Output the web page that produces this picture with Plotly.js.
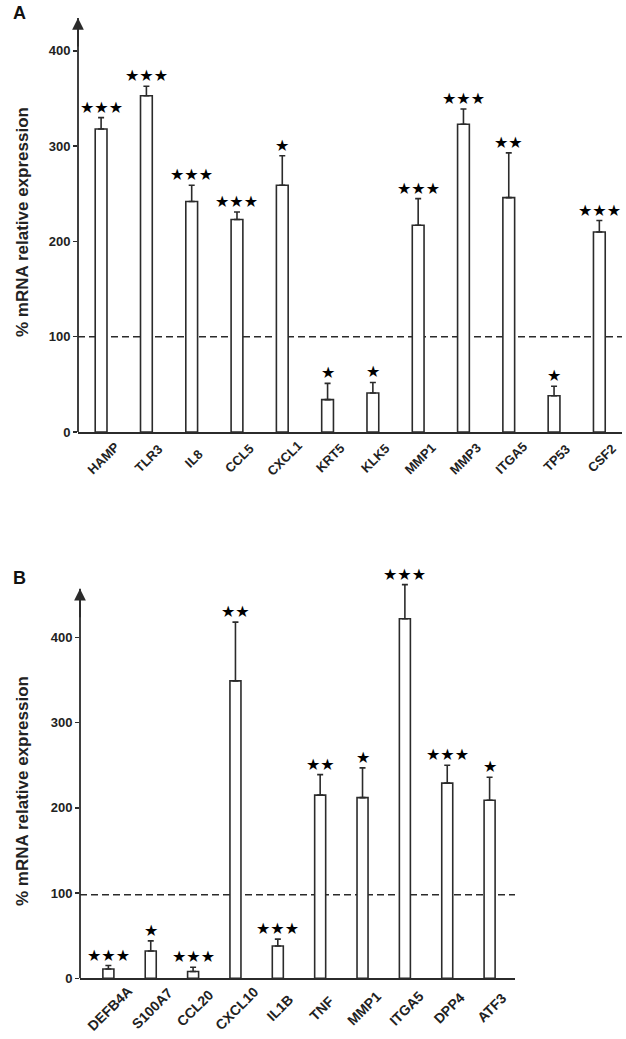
<!DOCTYPE html>
<html>
<head>
<meta charset="utf-8">
<script src="https://cdn.plot.ly/plotly-3.0.1.min.js"></script>
<style>html,body{margin:0;padding:0;background:#fff}#chart{width:626px;height:1039px}</style>
</head>
<body>
<div id="chart"></div>
<script>
// Panel A
const genesA = ["HAMP","TLR3","IL8","CCL5","CXCL1","KRT5","KLK5","MMP1","MMP3","ITGA5","TP53","CSF2"];
const valuesA = [318, 353, 242, 223, 259, 34, 41, 217, 323, 246, 38, 210];
const errorsA = [12, 10, 17, 8, 31, 17, 11, 28, 16, 47, 10, 12];
const starsA = [3, 3, 3, 3, 1, 1, 1, 3, 3, 2, 1, 3];
// Panel B
const genesB = ["DEFB4A","S100A7","CCL20","CXCL10","IL1B","TNF","MMP1","ITGA5","DPP4","ATF3"];
const valuesB = [11, 32, 8, 349, 38, 215, 212, 422, 229, 209];
const errorsB = [4, 12, 5, 69, 8, 24, 35, 40, 21, 27];
const starsB = [3, 1, 3, 2, 3, 2, 1, 3, 3, 1];
const yTicks = [0, 100, 200, 300, 400];
const refA = 100, refB = 98;
const axisTopA = 434.6, axisTopB = 457;
const yTitle = "% mRNA relative expression";

const ink = "#2b2b2b";
const sans = "Liberation Sans, Arial, sans-serif";
const yLbl = {family: sans, size: 13, color: "#222", weight: 700};

function barTrace(x, y, err, xa, ya) {
  return {
    type: "bar", x: x, y: y, xaxis: xa, yaxis: ya, width: 0.26, cliponaxis: false,
    marker: {color: "#ffffff", line: {color: ink, width: 1.6}},
    error_y: {type: "data", array: err, arrayminus: err.map(() => 0), symmetric: false,
              color: ink, thickness: 1.6, width: 3},
    hoverinfo: "x+y", showlegend: false
  };
}

const data = [
  barTrace(genesA, valuesA, errorsA, "x", "y"),
  barTrace(genesB, valuesB, errorsB, "x2", "y2")
];

function starAnn(genes, vals, errs, stars, xr, yr) {
  return genes.map((g, i) => ({
    x: g, y: vals[i] + errs[i], xref: xr, yref: yr, yanchor: "bottom", yshift: -1,
    text: "★".repeat(stars[i]), showarrow: false,
    font: {family: "DejaVu Sans, sans-serif", size: 16, color: "#000"}
  }));
}

// category labels, rotated 45 degrees, centred under each bar
function labelAnn(genes, xr, yr, size, dy) {
  return genes.map(g => ({
    x: g, y: 0, xref: xr, yref: yr, xanchor: "center", yanchor: "middle",
    xshift: 2, yshift: -dy, textangle: -45, text: g, showarrow: false,
    font: {family: sans, size: size, color: "#222", weight: 700}
  }));
}

function xAxis(dom, rng, anchor) {
  return {type: "category", domain: dom, range: rng, anchor: anchor,
    showline: true, linecolor: ink, linewidth: 1.8, ticks: "", showticklabels: false,
    showgrid: false, zeroline: false, fixedrange: true};
}
function yAxis(dom, rng, anchor) {
  return {domain: dom, range: rng, anchor: anchor, showline: false, ticks: "outside", ticklen: 4,
    tickwidth: 1.5, tickcolor: ink, tickvals: yTicks, showgrid: false, zeroline: false,
    tickfont: yLbl, fixedrange: true};
}

function axisLine(xr, yr, top) {
  return {type: "line", xref: xr + " domain", yref: yr, x0: 0, x1: 0, y0: 0, y1: top,
          line: {color: ink, width: 1.8}};
}
function axisArrow(xr, yr, top) {
  return {xref: xr + " domain", yref: yr, x: 0, y: top, ax: 0, ay: 30,
          text: "", showarrow: true, arrowhead: 2, arrowsize: 1.3, arrowwidth: 1.8, arrowcolor: ink};
}

const titleFont = {family: sans, size: 17, color: "#222", weight: 700};
const panelFont = {family: sans, size: 18, color: "#111", weight: 700};

const layout = {
  width: 626, height: 1039,
  margin: {l: 0, r: 0, t: 0, b: 0},
  paper_bgcolor: "#fff", plot_bgcolor: "rgba(0,0,0,0)",
  bargap: 0,
  xaxis: xAxis([0.1246, 0.9936], [-0.51, 11.5], "y"),
  yaxis: yAxis([0.5842, 0.9827], [0, 434.6], "x"),
  xaxis2: xAxis([0.1278, 0.8227], [-0.67, 9.6], "y2"),
  yaxis2: yAxis([0.0584, 0.4521], [0, 480], "x2"),
  shapes: [
    {type: "line", xref: "x domain", yref: "y", x0: 0, x1: 1, y0: refA, y1: refA, layer: "below",
     line: {color: ink, width: 1.5, dash: "7px,4px"}},
    {type: "line", xref: "x2 domain", yref: "y2", x0: 0, x1: 1, y0: refB, y1: refB, layer: "below",
     line: {color: ink, width: 1.5, dash: "7px,4px"}},
    axisLine("x", "y", axisTopA),
    axisLine("x2", "y2", axisTopB)
  ],
  annotations: [].concat(
    starAnn(genesA, valuesA, errorsA, starsA, "x", "y"),
    starAnn(genesB, valuesB, errorsB, starsB, "x2", "y2"),
    labelAnn(genesA, "x", "y", 13, 26),
    labelAnn(genesB, "x2", "y2", 14, 30),
    [
      axisArrow("x", "y", axisTopA),
      axisArrow("x2", "y2", axisTopB),
      {xref: "paper", yref: "paper", x: 22/626, y: 1 - 222/1039, xanchor: "center", yanchor: "middle",
       text: yTitle, textangle: -90, showarrow: false, font: titleFont},
      {xref: "paper", yref: "paper", x: 22/626, y: 1 - 791/1039, xanchor: "center", yanchor: "middle",
       text: yTitle, textangle: -90, showarrow: false, font: titleFont},
      {xref: "paper", yref: "paper", x: 19/626, y: 1 - 13/1039, xanchor: "center", yanchor: "middle",
       text: "A", showarrow: false, font: panelFont},
      {xref: "paper", yref: "paper", x: 19/626, y: 1 - 578/1039, xanchor: "center", yanchor: "middle",
       text: "B", showarrow: false, font: panelFont}
    ]
  )
};

Plotly.newPlot("chart", data, layout, {staticPlot: true, displayModeBar: false});
</script>
</body>
</html>
